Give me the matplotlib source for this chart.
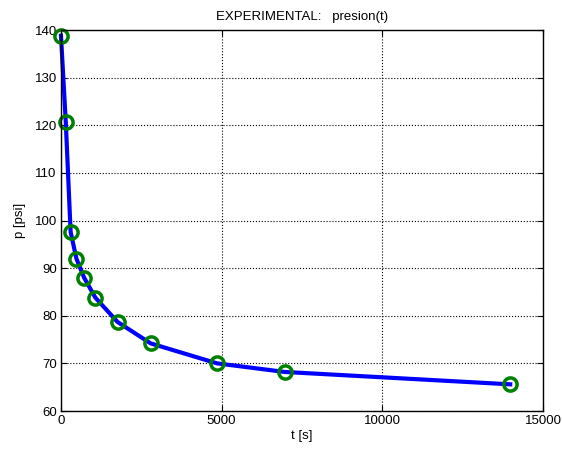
import matplotlib.pyplot as plt

# Experimental pressure readings
t_s = [0, 150, 300, 480, 720, 1070, 1760, 2790, 4860, 6960, 13980]
p_psi = [138.8, 120.6, 97.6, 92.0, 88.0, 83.8, 78.7, 74.2, 70.0, 68.2, 65.6]

xticks = [0, 5000, 10000, 15000]
yticks = [60, 70, 80, 90, 100, 110, 120, 130, 140]

plt.rcParams.update({"font.family": ["Liberation Sans", "DejaVu Sans"], "font.size": 9.5})

fig = plt.figure(figsize=(5.62, 4.55), dpi=100)
ax = fig.add_axes([0.1085, 0.0967, 0.8577, 0.8373])

ax.plot(t_s, p_psi, "-", color="blue", lw=3, clip_on=False)
ax.plot(t_s, p_psi, "o", mfc="none", mec="#008000", mew=2.5, ms=9.5, clip_on=False)

ax.set_xlim(0, 15000)
ax.set_ylim(60, 140)
ax.set_xticks(xticks)
ax.set_yticks(yticks)
ax.grid(True, color="black", ls=":", lw=0.8)
ax.tick_params(direction="in", top=True, right=True, length=4, width=0.8, pad=3)
for s in ax.spines.values():
    s.set_linewidth(1.0)

ax.set_xlabel("t [s]", labelpad=2)
ax.set_ylabel("p [psi]", labelpad=6)
ax.set_title("EXPERIMENTAL:   presion(t)", fontsize=9.5, pad=7)

fig.savefig("out.png", dpi=100)
